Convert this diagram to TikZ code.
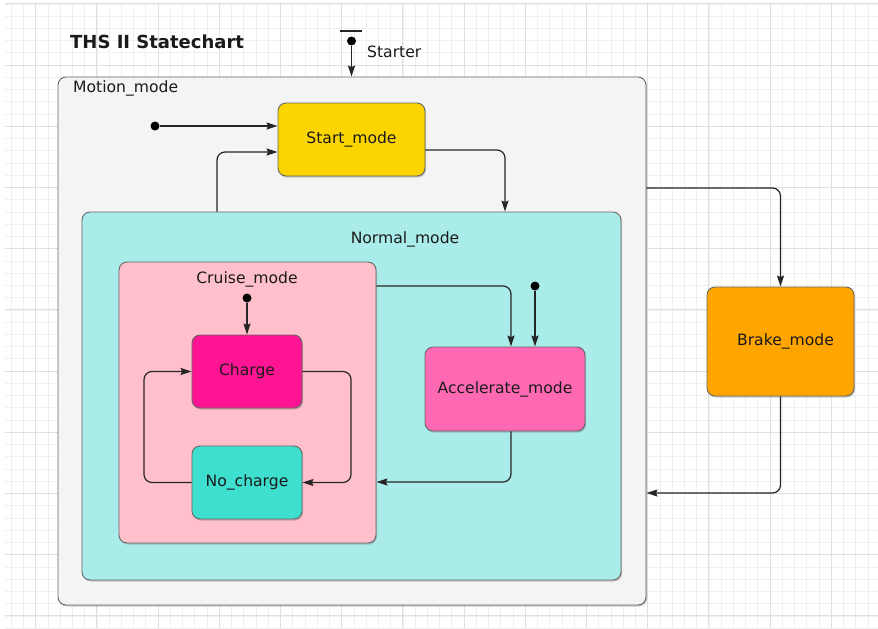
\documentclass[tikz,border=0pt]{standalone}
\usepackage{fontspec}
\setmainfont{DejaVu Sans}
\usetikzlibrary{arrows.meta,shadows}
\definecolor{gridminor}{HTML}{F0F0F0}
\definecolor{gridmajor}{HTML}{E0E0E0}
\definecolor{motionfill}{HTML}{F4F4F4}
\definecolor{startfill}{HTML}{FCD500}
\definecolor{normalfill}{HTML}{AAECEA}
\definecolor{cruisefill}{HTML}{FFC0CB}
\definecolor{chargefill}{HTML}{FF1493}
\definecolor{nochargefill}{HTML}{3EDFCF}
\definecolor{accelfill}{HTML}{FF69B4}
\definecolor{brakefill}{HTML}{FFA500}
\definecolor{edgegray}{HTML}{666666}
\definecolor{txt}{HTML}{1A1A1A}
\tikzset{
  statebox/.style={draw=edgegray, line width=0.9pt, rounded corners=8pt, inner sep=0pt,
    font=\fontsize{15.6}{18}\selectfont, text=txt,
    drop shadow={shadow xshift=1pt, shadow yshift=-1.5pt, opacity=0.35, fill=black!60}},
  lbl/.style={inner sep=0pt, font=\fontsize{15.6}{18}\selectfont, text=txt},
  initdot/.style={circle, fill=black, minimum size=9pt, inner sep=0pt},
  tr/.style={line width=1.2pt, draw=black!85, rounded corners=8pt,
    -{Stealth[length=11pt,width=7pt,inset=1.5pt]}},
}
\begin{document}
\begin{tikzpicture}[x=1pt,y=-1pt]
\useasboundingbox (0,0) rectangle (878,629);
% background grid
\fill[white] (0,0) rectangle (878,629);
\begin{scope}
\clip (5,3) rectangle (878,628);
\foreach \i in {-3,...,72} \draw[gridminor, line width=0.6pt] ({35.6+12.24*\i},3) -- ({35.6+12.24*\i},628);
\foreach \j in {0,...,52} \draw[gridminor, line width=0.6pt] (5,{3.8+12.24*\j}) -- (878,{3.8+12.24*\j});
\foreach \i in {0,...,14} \draw[gridmajor, line width=0.8pt] ({35.6+61.2*\i},3) -- ({35.6+61.2*\i},628);
\foreach \j in {0,...,10} \draw[gridmajor, line width=0.8pt] (5,{3.8+61.2*\j}) -- (878,{3.8+61.2*\j});
\end{scope}

% title
\node[anchor=west, inner sep=0pt, font=\fontsize{18}{21}\selectfont\bfseries, text=txt] (title) at (70,42) {THS II Statechart};

% states
\node[statebox, fill=motionfill, minimum width=588pt, minimum height=528pt] (motion) at (352,341) {};
\node[statebox, fill=startfill, minimum width=147pt, minimum height=73pt] (start) at (351.5,139.5) {Start\_mode};
\node[statebox, fill=normalfill, minimum width=539pt, minimum height=368pt] (normal) at (351.5,396) {};
\node[statebox, fill=cruisefill, minimum width=257pt, minimum height=281pt] (cruise) at (247.5,402.5) {};
\node[statebox, fill=chargefill, minimum width=110pt, minimum height=73pt] (charge) at (247,371.5) {Charge};
\node[statebox, fill=nochargefill, minimum width=110pt, minimum height=73pt] (nocharge) at (247,482.5) {No\_charge};
\node[statebox, fill=accelfill, minimum width=160pt, minimum height=84pt] (accel) at (505,389) {Accelerate\_mode};
\node[statebox, fill=brakefill, minimum width=147pt, minimum height=109pt] (brake) at (780.5,341.5) {\hspace{10pt}Brake\_mode};

% container labels
\node[lbl, anchor=west] (motionlbl) at (73,88) {Motion\_mode};
\node[lbl] (normallbl) at (405,239) {Normal\_mode};
\node[lbl] (cruiselbl) at (247,279) {Cruise\_mode};

% starter
\coordinate (barl) at (340,31);
\coordinate (barr) at (362,31);
\draw[line width=1.6pt, black!85] (barl) -- (barr);
\node[initdot] (sdot) at (351.5,41) {};
\node[lbl, anchor=west] (starterlbl) at (367,52) {Starter};
\draw[tr] (sdot) -- (motion.north -| sdot);

% helper coordinates
\coordinate (h1) at (505,150);
\coordinate (h2) at (217,152);
\coordinate (h3) at (780.5,188);
\coordinate (h4) at (780.5,493);
\coordinate (h5) at (511,286);
\coordinate (h6) at (511,482);
\coordinate (h7) at (351,430);
\coordinate (h8) at (144,430);

% initial dots
\node[initdot] (i1) at (155,126) {};
\node[initdot] (i2) at (247,298) {};
\node[initdot] (i3) at (535,286) {};

% transitions
\draw[tr] (i1) -- (start.west |- i1);
\draw[tr] (start.east |- h1) -| (normal.north -| h1);
\draw[tr] (normal.north -| h2) |- (start.west |- h2);
\draw[tr] (motion.east |- h3) -| (brake.north);
\draw[tr] (brake.south) |- (motion.east |- h4);
\draw[tr] (cruise.east |- h5) -| (accel.north -| h5);
\draw[tr] (i3) -- (accel.north -| i3);
\draw[tr] (accel.south -| h6) |- (cruise.east |- h6);
\draw[tr] (i2) -- (charge.north);
\draw[tr] (charge.east) -| (h7) |- (nocharge.east);
\draw[tr] (nocharge.west) -| (h8) |- (charge.west);
\end{tikzpicture}
\end{document}
